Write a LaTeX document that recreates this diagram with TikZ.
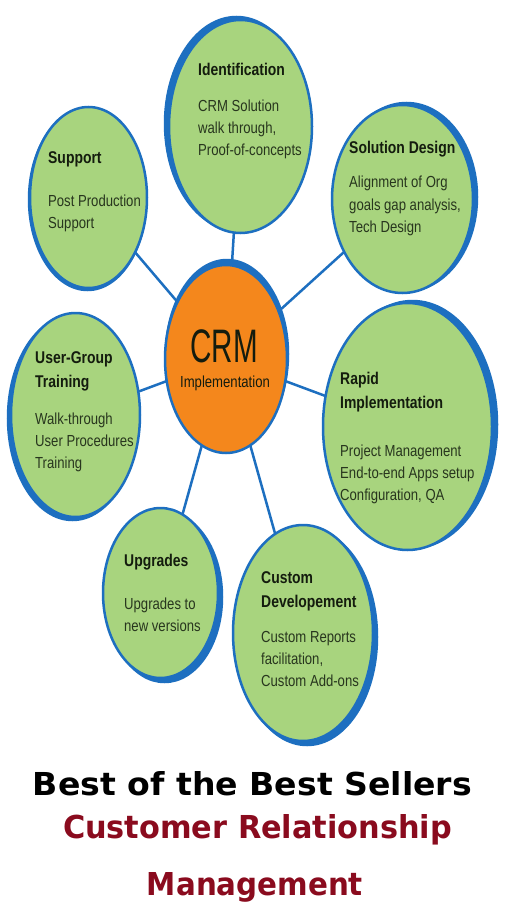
\documentclass[tikz,border=0pt]{standalone}
\usepackage{fontspec}
\setmainfont{Liberation Sans}[FakeStretch=0.82]
\newfontfamily\crmfont{Liberation Sans}[FakeStretch=0.63]
\newfontfamily\bannerfont{DejaVu Sans}
\usetikzlibrary{shapes.geometric}
\pgfdeclarelayer{bg}
\pgfsetlayers{bg,main}
\definecolor{bubblegreen}{HTML}{A8D47E}
\definecolor{rimblue}{HTML}{1D6FC0}
\definecolor{crmorange}{HTML}{F4871C}
\definecolor{titleink}{HTML}{141C0E}
\definecolor{bodyink}{HTML}{28361E}
\definecolor{darkred}{HTML}{8A0B1E}
\newcommand\stk[1]{\begin{tabular}[t]{@{}l@{}}#1\end{tabular}}
\tikzset{
  bubble/.style={ellipse, fill=bubblegreen, draw=rimblue, line width=2.5pt, inner sep=0pt},
  rimshadow/.style={ellipse, fill=rimblue, draw=rimblue, line width=2.5pt, inner sep=0pt},
  ttl/.style={anchor=base west, font=\fontsize{17}{24}\selectfont\bfseries, text=titleink, inner sep=0pt},
  bdy/.style={anchor=base west, font=\fontsize{16}{22}\selectfont, text=bodyink, inner sep=0pt},
  link/.style={draw=rimblue, line width=2.5pt},
  banner/.style={anchor=base, inner sep=0pt, font=\bannerfont\bfseries\fontsize{30}{30}\selectfont}
}
\begin{document}
\begin{tikzpicture}[x=1pt, y=-1pt]
\useasboundingbox (0,0) rectangle (506,920);
% shadows (thick rim effect)
\node[rimshadow, minimum width=143pt, minimum height=213pt] (idS) at (236.5,123.5) {};
\node[rimshadow, minimum width=117pt, minimum height=181pt] (supS) at (87.5,199.5) {};
\node[rimshadow, minimum width=141pt, minimum height=188pt] (solS) at (406.5,197) {};
\node[rimshadow, minimum width=122pt, minimum height=188pt] (crmS) at (227,354) {};
\node[rimshadow, minimum width=129pt, minimum height=204pt] (ugS) at (72.5,418) {};
\node[rimshadow, minimum width=169pt, minimum height=247pt] (rapS) at (412.5,424.5) {};
\node[rimshadow, minimum width=115pt, minimum height=170pt] (upgS) at (164.5,597) {};
\node[rimshadow, minimum width=140pt, minimum height=216pt] (cusS) at (307,637) {};
% bubbles
\node[bubble, minimum width=143pt, minimum height=213pt] (id) at (240.5,126.5) {};
\node[bubble, minimum width=117pt, minimum height=181pt] (sup) at (88.5,197.5) {};
\node[bubble, minimum width=141pt, minimum height=188pt] (sol) at (402.5,199) {};
\node[bubble, fill=crmorange, minimum width=122pt, minimum height=188pt] (crm) at (226,359) {};
\node[bubble, minimum width=129pt, minimum height=204pt] (ug) at (75.5,415) {};
\node[bubble, minimum width=169pt, minimum height=247pt] (rap) at (407.5,426.5) {};
\node[bubble, minimum width=115pt, minimum height=170pt] (upg) at (160.5,593) {};
\node[bubble, minimum width=140pt, minimum height=216pt] (cus) at (303,633) {};
% background and connectors
\begin{pgfonlayer}{bg}
\fill[white] (0,0) rectangle (506,920);
\draw[link] (crm.center) -- (id.center);
\draw[link] (crm.center) -- (sup.center);
\draw[link] (crm.center) -- (sol.center);
\draw[link] (crm.center) -- (ug.center);
\draw[link] (crm.center) -- (rap.center);
\draw[link] (crm.center) -- (upg.center);
\draw[link] (crm.center) -- (cus.center);
\end{pgfonlayer}
% texts
\node[ttl] (idT) at (198,76) {Identification};
\node[bdy] (idB) at (198,112) {\stk{CRM Solution\\walk through,\\Proof-of-concepts}};
\node[ttl] (supT) at (48,164) {Support};
\node[bdy] (supB) at (48,206) {\stk{Post Production\\Support}};
\node[ttl] (solT) at (349,154) {Solution Design};
\node[bdy] (solB) at (349,188) {\stk{Alignment of Org\\goals gap analysis,\\Tech Design}};
\node[ttl] (ugT) at (35,363) {\stk{User-Group\\Training}};
\node[bdy] (ugB) at (35,424) {\stk{Walk-through\\User Procedures\\Training}};
\node[ttl] (rapT) at (340,384) {\stk{Rapid\\Implementation}};
\node[bdy] (rapB) at (340,456) {\stk{Project Management\\End-to-end Apps setup\\Configuration, QA}};
\node[ttl] (upgT) at (124,566) {Upgrades};
\node[bdy] (upgB) at (124,609) {\stk{Upgrades to\\new versions}};
\node[ttl] (cusT) at (261,583) {\stk{Custom\\Developement}};
\node[bdy] (cusB) at (261,642) {\stk{Custom Reports\\facilitation,\\Custom Add-ons}};
\node[anchor=base, inner sep=0pt, text=titleink, font=\crmfont\fontsize{47}{47}\selectfont] (crmT) at (224,362) {CRM};
\node[anchor=base, inner sep=0pt, text=titleink, font=\fontsize{16}{16}\selectfont] (crmB) at (225,387) {Implementation};
% banner
\node[banner, text=black] (b1) at (252.5,795) {\resizebox{439pt}{24pt}{Best of the Best Sellers}};
\node[banner, text=darkred] (b2) at (257.5,838) {\resizebox{389pt}{24pt}{Customer Relationship}};
\node[banner, text=darkred] (b3) at (255,895) {\resizebox{216pt}{23pt}{Management}};
\end{tikzpicture}
\end{document}
